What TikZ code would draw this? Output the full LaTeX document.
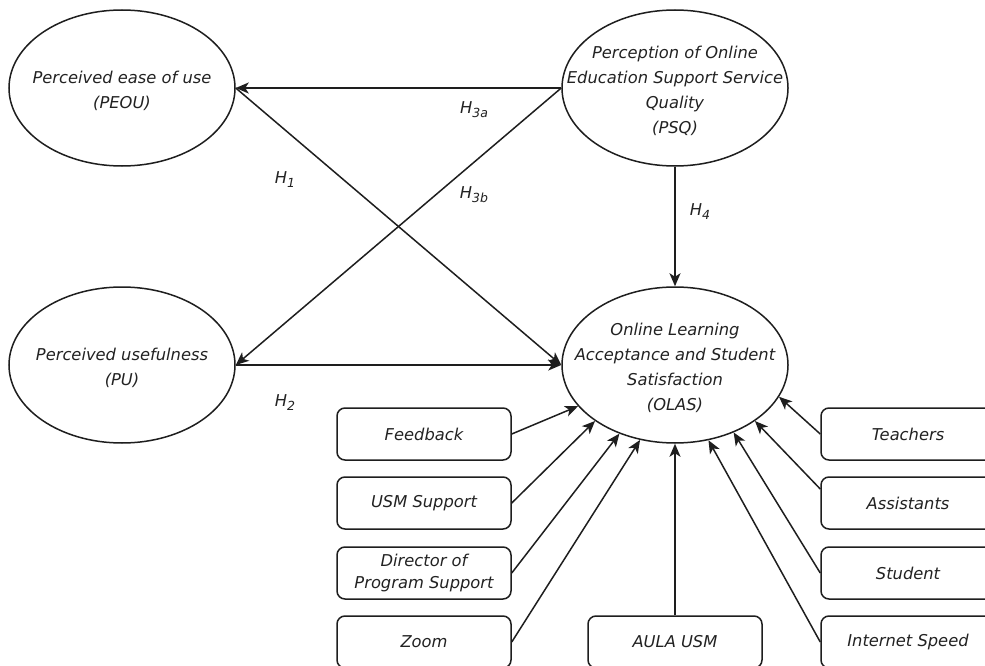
\documentclass[tikz,border=0pt]{standalone}
\usepackage{fontspec}
\setmainfont{DejaVu Sans}
\usetikzlibrary{arrows.meta,shapes.geometric}
\newcommand\hsub[1]{H\raisebox{-4pt}{\fontsize{12.5}{12.5}\selectfont #1}}
\definecolor{ink}{HTML}{1E1E1E}
\definecolor{txt}{HTML}{222222}
\begin{document}
\begin{tikzpicture}[x=1pt,y=-1pt,
  every node/.style={text=txt,font=\fontsize{16.3}{25}\selectfont\itshape},
  construct/.style={draw=ink,line width=1.5pt,ellipse,minimum width=226pt,minimum height=156pt,inner sep=0pt,
     label={[align=center,inner sep=0pt,yshift=-3pt]center:#1}},
  factor/.style={draw=ink,line width=1.5pt,rectangle,rounded corners=8pt,minimum width=174pt,minimum height=52pt,inner sep=0pt,align=center},
  link/.style={draw=ink,line width=1.5pt,-{Stealth[length=13pt,width=11pt,inset=3.5pt]}},
  hlab/.style={inner sep=0pt}]
\useasboundingbox (0,0) rectangle (985,666);
\clip (0,0) rectangle (985,666);
\fill[white] (0,0) rectangle (985,666);
% constructs
\node[construct={Perceived ease of use\\(PEOU)}] (peou) at (122,88) {};
\node[construct={Perception of Online\\Education Support Service\\Quality\\(PSQ)}] (psq) at (675,88) {};
\node[construct={Perceived usefulness\\(PU)}] (pu) at (122,365) {};
\node[construct={Online Learning\\Acceptance and Student\\Satisfaction\\(OLAS)}] (olas) at (675,365) {};
% factors
\node[factor] (feedback) at (424,434) {Feedback};
\node[factor] (usm) at (424,503) {USM Support};
\node[factor,font=\fontsize{16.3}{22}\selectfont\itshape] (director) at (424,573) {Director of\\Program Support};
\node[factor] (zoom) at (424,642) {Zoom};
\node[factor] (aula) at (675,642) {AULA USM};
\node[factor] (teachers) at (908,434) {Teachers};
\node[factor] (assist) at (908,503) {Assistants};
\node[factor] (student) at (908,573) {Student};
\node[factor] (internet) at (908,642) {Internet Speed};
% hypotheses
\draw[link] (psq.west) -- (peou.east);
\draw[link] (psq.west) -- (pu.east);
\draw[link] (peou.east) -- (olas.west);
\draw[link] (pu.east) -- (olas.west);
\draw[link] (psq.south) -- (olas.north);
\node[hlab] (h3a) at (474,110) {\hsub{3a}};
\node[hlab] (h3b) at (474,195) {\hsub{3b}};
\node[hlab] (h1) at (285,180) {\hsub{1}};
\node[hlab] (h2) at (285,403) {\hsub{2}};
\node[hlab] (h4) at (700,212) {\hsub{4}};
% factor links
\draw[link] (feedback.east) -- (olas.203);
\draw[link] (usm.east) -- (olas.215);
\draw[link] (director.east) -- (olas.231);
\draw[link] (zoom.east) -- (olas.245);
\draw[link] (aula.north) -- (olas.south);
\draw[link] (internet.west) -- (olas.294);
\draw[link] (student.west) -- (olas.311);
\draw[link] ([yshift=14pt]assist.west) -- (olas.325);
\draw[link] (teachers.west) -- (olas.343);
\end{tikzpicture}
\end{document}
